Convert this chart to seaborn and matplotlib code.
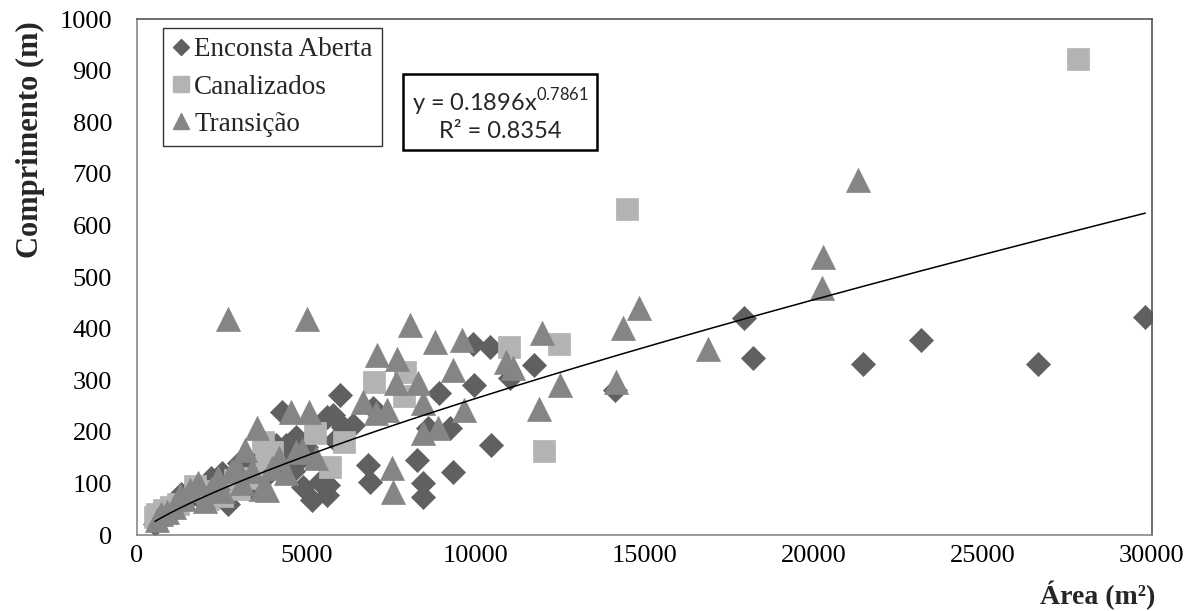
import numpy as np
import pandas as pd
import matplotlib
matplotlib.use("Agg")
import matplotlib.pyplot as plt
from matplotlib.lines import Line2D
import seaborn as sns

## data (area m2, length m)
enconsta_x = [530, 600, 700, 800, 900, 1000, 1100, 1200, 1300, 1400, 1500, 1600, 1800, 2000,
              2200, 2300, 2500, 2700, 2900, 3000, 3200, 3300, 3500, 3640, 3700, 3900, 4100, 4200,
              4300, 4400, 4500, 4600, 4700, 4800, 4900, 5000, 5170, 5400, 5620, 5650, 5620, 5800,
              5850, 6000, 6090, 6390, 6830, 6890, 6980, 8280, 8450, 8450, 8600, 8930, 9250, 9340,
              9940, 9970, 10430, 10460, 11030, 11740, 14130, 17950, 18210, 21470, 23170, 26640, 29800]
enconsta_y = [22, 30, 35, 45, 40, 50, 60, 55, 80, 65, 70, 90, 75, 95,
              110, 85, 120, 60, 105, 140, 150, 90, 130, 145, 155, 120, 175, 140,
              238, 175, 160, 125, 190, 145, 93, 170, 68, 103, 78, 97, 229, 233,
              184, 271, 209, 213, 136, 103, 246, 145, 101, 74, 207, 275, 207, 122,
              370, 291, 365, 174, 304, 329, 281, 420, 343, 331, 378, 331, 422]

canal_x = [530, 600, 800, 1000, 1200, 1700, 1900, 2100, 2500, 2900, 3000, 3400, 3730, 3800,
           4000, 5260, 5700, 6120, 7000, 7920, 7900, 11000, 12030, 12480, 14490, 27800]
canal_y = [35, 40, 48, 55, 60, 95, 85, 70, 75, 107, 90, 110, 180, 150,
           160, 198, 132, 180, 297, 316, 270, 365, 163, 370, 632, 922]

trans_x = [600, 700, 900, 1100, 1270, 1400, 1570, 1800, 2000, 2200, 2400, 2500, 2690, 2800,
           2960, 3100, 3190, 3400, 3550, 3700, 3840, 4000, 4200, 4400, 4550, 4700, 4880, 5020,
           5090, 5300, 6680, 7070, 7090, 7390, 7540, 7570, 7660, 7680, 8070, 8310, 8460, 8460,
           8810, 8900, 9350, 9600, 9670, 10900, 11120, 11890, 11970, 12500, 14160, 14370, 14840,
           16880, 20250, 20280, 21310]
trans_y = [30, 40, 45, 55, 78, 70, 87, 100, 65, 90, 110, 85, 418, 125,
           132, 100, 165, 125, 207, 90, 87, 130, 150, 120, 238, 160, 165, 418,
           238, 150, 258, 236, 349, 242, 130, 83, 294, 341, 407, 294, 256, 198,
           374, 207, 320, 378, 242, 336, 323, 244, 391, 291, 297, 401, 440,
           360, 479, 539, 688]

## power fit shown on the chart
fit_a = 0.1896
fit_b = 0.7861

c_enc = '#606060'
c_can = '#b3b3b3'
c_tra = '#858585'

sns.set_style("white")
plt.rcParams['font.family'] = ['Liberation Serif', 'DejaVu Serif']

fig = plt.figure(figsize=(11.99, 6.11), dpi=100)
ax = fig.add_axes([137/1199, 1 - 535/611, 1015/1199, 516/611])

sns.scatterplot(x=enconsta_x, y=enconsta_y, marker='D', s=150, color=c_enc,
                edgecolor=c_enc, linewidth=0.5, ax=ax, zorder=2)
sns.scatterplot(x=canal_x, y=canal_y, marker='s', s=250, color=c_can,
                edgecolor=c_can, linewidth=0.5, ax=ax, zorder=3)
sns.scatterplot(x=trans_x, y=trans_y, marker='^', s=300, color=c_tra,
                edgecolor=c_tra, linewidth=0.5, ax=ax, zorder=4)

all_x = np.array(enconsta_x + canal_x + trans_x)
xf = np.linspace(all_x.min(), all_x.max(), 200)
sns.lineplot(x=xf, y=fit_a * xf ** fit_b, color='black', linewidth=1.1, ax=ax, zorder=5)

ax.set_xlim(0, 30000)
ax.set_ylim(0, 1000)
ax.set_xticks(np.arange(0, 30001, 5000))
ax.set_yticks(np.arange(0, 1001, 100))
ax.tick_params(axis='both', labelsize=19, colors='#888888', labelcolor='black',
               direction='out', length=7, width=1)
ax.tick_params(axis='x', pad=0)
ax.tick_params(axis='y', pad=11)
for sp in ax.spines.values():
    sp.set_color('#888888')
    sp.set_linewidth(1.2)
ax.spines['right'].set_color('#555555')
ax.spines['top'].set_color('#555555')

fig.text(30/1199, 1 - 140/611, 'Comprimento (m)', rotation=90, ha='center', va='center',
         fontsize=22, fontweight='bold')
fig.text(1098/1199, 1 - 595/611, 'Área (m²)', ha='center', va='center',
         fontsize=20, fontweight='bold')

handles = [
    Line2D([], [], marker='D', linestyle='none', color=c_enc, markersize=8),
    Line2D([], [], marker='s', linestyle='none', color=c_can, markersize=12),
    Line2D([], [], marker='^', linestyle='none', color=c_tra, markersize=12),
]
leg = fig.legend(handles, ['Enconsta Aberta', 'Canalizados', 'Transição'],
                 loc='upper left', bbox_to_anchor=(163/1199, 1 - 28/611),
                 fontsize=19.5, frameon=True, fancybox=False, edgecolor='black',
                 handlelength=0.6, handletextpad=0.2, borderpad=0.35,
                 labelspacing=0.45, borderaxespad=0)
leg.get_frame().set_linewidth(1.0)

ax.text((500-137)/1015, (535-114)/516, 'y = 0.1896x$^{\\mathregular{0.7861}}$\nR² = 0.8354',
        transform=ax.transAxes, ha='center', va='center', multialignment='center',
        fontsize=17, family=['Lato', 'DejaVu Sans'], zorder=6,
        bbox=dict(boxstyle='square,pad=0.35', fc='white', ec='black', lw=1.8))

fig.savefig('out.png', dpi=100)
